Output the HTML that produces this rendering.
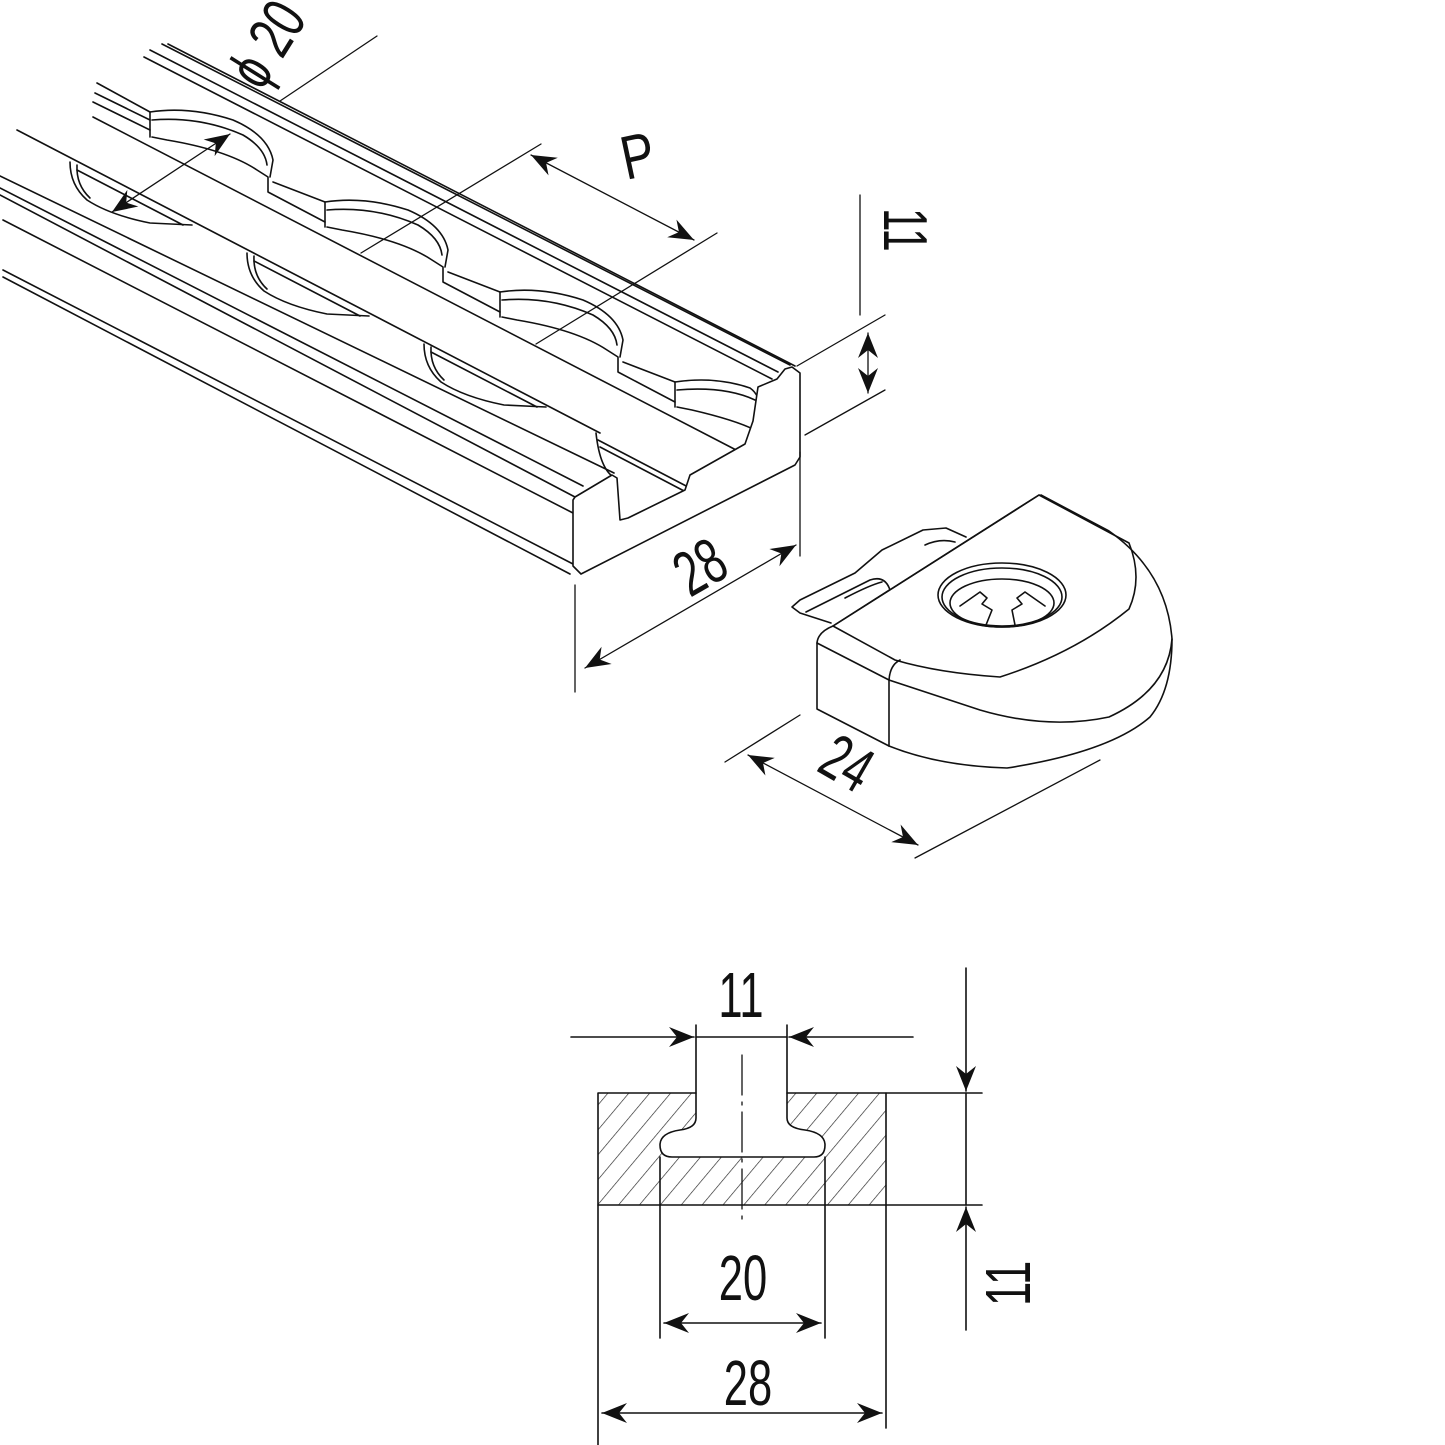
<!DOCTYPE html>
<html><head><meta charset="utf-8"><style>
html,body{margin:0;padding:0;background:#fff;}
svg{display:block}
text{font-family:"Liberation Sans",sans-serif;fill:#111;}
</style></head><body>
<svg width="1445" height="1445" viewBox="0 0 1445 1445" xmlns="http://www.w3.org/2000/svg">
<defs>
<marker id="a" viewBox="-26 -11 28 22" refX="0" refY="0" markerWidth="28" markerHeight="22" markerUnits="userSpaceOnUse" orient="auto-start-reverse">
<path d="M0,0 L-25,-10 L-17,0 L-25,10 Z" fill="#111"/>
</marker>
<pattern id="h" width="16" height="16" patternUnits="userSpaceOnUse" patternTransform="rotate(40)">
<line x1="0" y1="0" x2="0" y2="16" stroke="#222" stroke-width="1.3"/>
</pattern>
</defs>
<g fill="none" stroke="#111" stroke-width="1.6" stroke-linejoin="round" stroke-linecap="round">
<!-- rail long lines -->
<line x1="162" y1="44" x2="790" y2="365"/>
<line x1="168" y1="44" x2="795" y2="366"/>
<line x1="150" y1="50" x2="778" y2="372"/>
<line x1="144" y1="57" x2="772" y2="379"/>
<line x1="97" y1="83" x2="150" y2="112"/>
<line x1="95" y1="93" x2="150" y2="120"/>
<line x1="93" y1="102" x2="150" y2="130"/>
<line x1="93" y1="117" x2="740" y2="452"/>
<line x1="17" y1="130" x2="600" y2="433"/>
<line x1="0" y1="176" x2="614" y2="473"/>
<line x1="0" y1="188" x2="583" y2="486"/>
<line x1="0" y1="195" x2="575" y2="497"/>
<line x1="3" y1="220" x2="573" y2="513"/>
<line x1="3" y1="270" x2="573" y2="564"/>
<line x1="3" y1="277" x2="570" y2="574"/>
<line x1="598" y1="440" x2="690" y2="488"/>
<line x1="600" y1="447" x2="686" y2="492"/>
<!-- upper row holes -->
<g id="u1">
<path d="M150,112 L150,137"/>
<path d="M150,112 Q190,106 233,120 Q268,135 273,160 L270,177"/>
<path d="M152,120 Q200,116 243,135 Q265,148 267,165"/>
<path d="M152,137 L167,140 Q227,150 257,170 L268,177 L268,192 L325,222"/>
<path d="M273,182 L325,202"/>
</g>
<g transform="translate(175,90)">
<path d="M150,112 L150,137"/><path d="M150,112 Q190,106 233,120 Q268,135 273,160 L270,177"/><path d="M152,120 Q200,116 243,135 Q265,148 267,165"/><path d="M152,137 L167,140 Q227,150 257,170 L268,177 L268,192 L325,222"/><path d="M273,182 L325,202"/>
</g>
<g transform="translate(350,180)">
<path d="M150,112 L150,137"/><path d="M150,112 Q190,106 233,120 Q268,135 273,160 L270,177"/><path d="M152,120 Q200,116 243,135 Q265,148 267,165"/><path d="M152,137 L167,140 Q227,150 257,170 L268,177 L268,192 L325,222"/><path d="M273,182 L325,202"/>
</g>
<g transform="translate(525,270)">
<path d="M150,112 L150,137"/><path d="M150,112 Q190,106 225,118 Q235,125 235,140"/><path d="M152,120 Q200,116 230,130"/><path d="M152,137 L167,140 Q210,150 230,160"/>
</g>
<!-- lower row holes -->
<g id="l1">
<path d="M70,162 Q70,185 87,200 Q110,215 150,223 L192,225"/>
<path d="M77,165 Q76,185 90,198"/>
<path d="M77,170 L183,225"/>
</g>
<g transform="translate(177,91)">
<path d="M70,162 Q70,185 87,200 Q110,215 150,223 L192,225"/><path d="M77,165 Q76,185 90,198"/><path d="M77,170 L183,225"/>
</g>
<g transform="translate(354,182)">
<path d="M70,162 Q70,185 87,200 Q110,215 150,223 L192,225"/><path d="M77,165 Q76,185 90,198"/><path d="M77,170 L183,225"/>
</g>
<path d="M596,433 Q600,470 615,478"/>
<!-- end face -->
<path d="M575,497 L612,475 L617,478 L620,520 L628,518 L685,490 L690,475 L745,444 L753,421 L758,387 L777,379 L785,369 L792,367 L800,373 L800,457 L795,465 L581,574 L573,566 L573,500 Z" fill="#fff"/>
<!-- dimension lines top -->
<line x1="280" y1="101" x2="377" y2="36" stroke-width="1.3"/>
<line x1="230" y1="134" x2="112" y2="212" stroke-width="1.3" marker-start="url(#a)" marker-end="url(#a)"/>
<line x1="361" y1="253" x2="541" y2="144" stroke-width="1.3"/>
<line x1="536" y1="344" x2="717" y2="233" stroke-width="1.3"/>
<line x1="531" y1="155" x2="694" y2="240" stroke-width="1.3" marker-start="url(#a)" marker-end="url(#a)"/>
<line x1="860" y1="195" x2="860" y2="315" stroke-width="1.3"/>
<line x1="797" y1="366" x2="885" y2="315" stroke-width="1.3"/>
<line x1="805" y1="435" x2="885" y2="390" stroke-width="1.3"/>
<line x1="868" y1="333" x2="868" y2="393" stroke-width="1.3" marker-start="url(#a)" marker-end="url(#a)"/>
<line x1="800" y1="452" x2="800" y2="556" stroke-width="1.3"/>
<line x1="575" y1="585" x2="575" y2="692" stroke-width="1.3"/>
<line x1="585" y1="668" x2="796" y2="545" stroke-width="1.3" marker-start="url(#a)" marker-end="url(#a)"/>
<line x1="725" y1="762" x2="800" y2="715" stroke-width="1.3"/>
<line x1="915" y1="858" x2="1100" y2="760" stroke-width="1.3"/>
<line x1="748" y1="755" x2="918" y2="845" stroke-width="1.3" marker-start="url(#a)" marker-end="url(#a)"/>
<!-- clip -->
<path d="M831,623 L800,613 L792,607 L800,600 L855,573 L882,550 L923,530 L946,528 L966,537" fill="#fff"/>
<path d="M806,612 Q830,600 870,580 Q885,575 890,590"/>
<path d="M845,598 Q870,585 882,582"/>
<path d="M925,545 Q940,538 955,542"/>
<path d="M833,626 L895,660 Q939,673 1000,677 Q1075,653 1129,609 Q1143,578 1129,543 L1039,495 Z" fill="#fff"/>
<line x1="833" y1="626" x2="1039" y2="495"/>
<path d="M1041,495 L1109,531 Q1167,572 1172,639 Q1168,690 1109,717 Q1048,730 980,710 L889,680"/>
<path d="M1172,639 Q1172,690 1150,717 Q1110,752 1007,768 Q939,766 889,746"/>
<path d="M833,626 Q818,632 817,643 L817,709 L889,746"/>
<line x1="817" y1="643" x2="889" y2="680"/>
<line x1="889" y1="680" x2="889" y2="746"/>
<path d="M889,680 Q890,665 900,660"/>
<ellipse cx="1002" cy="595" rx="64" ry="32"/>
<ellipse cx="1002" cy="597" rx="60" ry="29"/>
<ellipse cx="1002" cy="603" rx="52" ry="24"/>
<path d="M960,606 L980,592 L987,598 L982,604 L992,610 L986,625"/>
<path d="M1045,606 L1025,592 L1017,598 L1022,604 L1012,610 L1015,625"/>
<!-- cross section -->
<path d="M598,1093 L696,1093 L696,1118 Q696,1128 680,1130 Q660,1133 660,1145 Q660,1157 672,1157 L814,1157 Q825,1157 825,1145 Q825,1133 805,1130 Q787,1128 787,1118 L787,1093 L886,1093 L886,1205 L598,1205 Z" fill="url(#h)"/>
<line x1="696" y1="1093" x2="696" y2="1025"/>
<line x1="787" y1="1093" x2="787" y2="1025"/>
<line x1="571" y1="1037" x2="694" y2="1037" marker-end="url(#a)"/>
<line x1="696" y1="1037" x2="787" y2="1037"/>
<line x1="913" y1="1037" x2="789" y2="1037" marker-end="url(#a)"/>
<line x1="742" y1="1055" x2="742" y2="1225" stroke-dasharray="40 7 3 7" stroke-width="1.3"/>
<line x1="886" y1="1093" x2="982" y2="1093"/>
<line x1="886" y1="1205" x2="982" y2="1205"/>
<line x1="966" y1="968" x2="966" y2="1091" marker-end="url(#a)"/>
<line x1="966" y1="1093" x2="966" y2="1205"/>
<line x1="966" y1="1330" x2="966" y2="1207" marker-end="url(#a)"/>
<line x1="660" y1="1157" x2="660" y2="1338"/>
<line x1="825" y1="1157" x2="825" y2="1338"/>
<line x1="664" y1="1323" x2="821" y2="1323" marker-start="url(#a)" marker-end="url(#a)"/>
<line x1="598" y1="1205" x2="598" y2="1445"/>
<line x1="886" y1="1205" x2="886" y2="1428"/>
<line x1="602" y1="1413" x2="882" y2="1413" marker-start="url(#a)" marker-end="url(#a)"/>
</g>
<!-- labels -->
<g transform="translate(262,92) rotate(-58) scale(0.72,1)"><text x="0" y="0" font-size="62">ϕ 20</text></g>
<g transform="translate(626,180) rotate(-12) scale(0.8,1)"><text x="0" y="0" font-size="62">P</text></g>
<g transform="translate(884,208) rotate(90) scale(0.68,1)"><text x="0" y="0" font-size="62">11</text></g>
<g transform="translate(690,598) rotate(-30) scale(0.68,1)"><text x="0" y="0" font-size="64">28</text></g>
<g transform="translate(815,770) rotate(30) scale(0.68,1)"><text x="0" y="0" font-size="64">24</text></g>
<g transform="translate(741,1017) scale(0.68,1)"><text x="0" y="0" font-size="64" text-anchor="middle">11</text></g>
<g transform="translate(743,1300) scale(0.68,1)"><text x="0" y="0" font-size="64" text-anchor="middle">20</text></g>
<g transform="translate(748,1405) scale(0.68,1)"><text x="0" y="0" font-size="64" text-anchor="middle">28</text></g>
<g transform="translate(1030,1306) rotate(-90) scale(0.68,1)"><text x="0" y="0" font-size="64">11</text></g>
</svg>
</body></html>
